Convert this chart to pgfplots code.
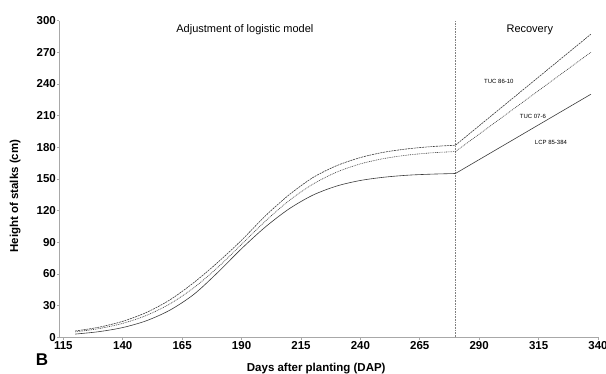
\documentclass[border=0pt]{standalone}
\usepackage{fontspec}
\setmainfont{Liberation Sans}
\usepackage{pgfplots}
\pgfplotsset{compat=1.18}
\definecolor{linec}{HTML}{3A3A3A}
\definecolor{axc}{HTML}{A8A8A8}
\begin{document}
\begin{tikzpicture}
\begin{axis}[
  at={(0,0)}, anchor=south west,
  scale only axis, width=538.7pt, height=316.6pt,
  xmin=113.3, xmax=340, ymin=0, ymax=300,
  axis lines*=left,
  axis line style={draw=axc, line width=0.6pt},
  xtick={115,140,...,340}, ytick={0,30,...,300},
  tick align=outside, major tick length=2.5pt,
  tick style={draw=axc, line width=0.6pt},
  /pgf/number format/assume math mode=true,
  ticklabel style={font=\fontsize{11.5}{13}\selectfont\bfseries},
  xticklabel style={inner sep=1.5pt},
  yticklabel style={inner sep=0.8pt},
  xlabel={Days after planting (DAP)},
  ylabel={Height of stalks (cm)},
  xlabel style={at={(rel axis cs:0.477,0)}, anchor=base, yshift=-34.5pt, font=\fontsize{11.5}{13}\selectfont\bfseries},
  ylabel style={at={(rel axis cs:-0.0817,0.446)}, anchor=center, font=\fontsize{11.5}{13}\selectfont\bfseries},
  clip=false,
]
% reference line
\addplot[draw=gray, line width=0.7pt, dash pattern=on 0.8pt off 0.8pt] coordinates {(280,0) (280,300)};
% TUC 86-10
\addplot[draw=linec, line width=0.6pt, smooth, dash pattern=on 2pt off 0.8pt] coordinates {
(120,5.96) (130,9.56) (140,15.16) (150,23.56) (160,35.68) (170,51.99) (180,71.0) (190,92.0)
(200,115.0) (210,135.0) (220,151.3) (230,162.6) (240,170.3) (250,175.4) (260,178.6) (270,180.7) (280,182.0)};
\addplot[draw=linec, line width=0.6pt, dash pattern=on 2pt off 0.8pt] coordinates {(280,182.0) (337,287.2)};
% TUC 07-6
\addplot[draw=linec, line width=0.6pt, smooth, dash pattern=on 0.9pt off 0.9pt] coordinates {
(120,5.08) (130,8.24) (140,13.19) (150,20.77) (160,31.87) (170,47.1) (180,66.3) (190,88.1)
(200,110.0) (210,129.5) (220,145.1) (230,156.5) (240,164.3) (250,169.4) (260,172.7) (270,174.8) (280,176.0)};
\addplot[draw=linec, line width=0.6pt, dash pattern=on 0.9pt off 0.9pt] coordinates {(280,176.0) (337,270.1)};
% LCP 85-384
\addplot[draw=linec, line width=0.6pt, smooth] coordinates {
(120,3.05) (130,5.34) (140,9.24) (150,15.72) (160,25.92) (170,40.83) (180,61.5) (190,84.0)
(200,104.5) (210,121.7) (220,134.7) (230,143.3) (240,148.6) (250,151.7) (260,153.6) (270,154.6) (280,155.2)};
\addplot[draw=linec, line width=0.6pt] coordinates {(280,155.2) (337,230.3)};
% annotations
\node[font=\fontsize{11}{13}\selectfont] at (axis cs:191.4,291.3) {Adjustment of logistic model};
\node[font=\fontsize{11}{13}\selectfont] at (axis cs:311.3,291.3) {Recovery};
\node[font=\fontsize{6}{7}\selectfont] at (axis cs:298.3,242.8) {TUC 86-10};
\node[font=\fontsize{6}{7}\selectfont] at (axis cs:312.6,209.5) {TUC 07-6};
\node[font=\fontsize{6}{7}\selectfont] at (axis cs:320.2,184.6) {LCP 85-384};
\node[font=\fontsize{17}{17}\selectfont\bfseries] at (rel axis cs:0,0) [xshift=-17.3pt, yshift=-22.7pt] {B};
\end{axis}
\pgfresetboundingbox
\useasboundingbox (-59.3pt,-36.7pt) rectangle (546.7pt,337.3pt);
\end{tikzpicture}
\end{document}
